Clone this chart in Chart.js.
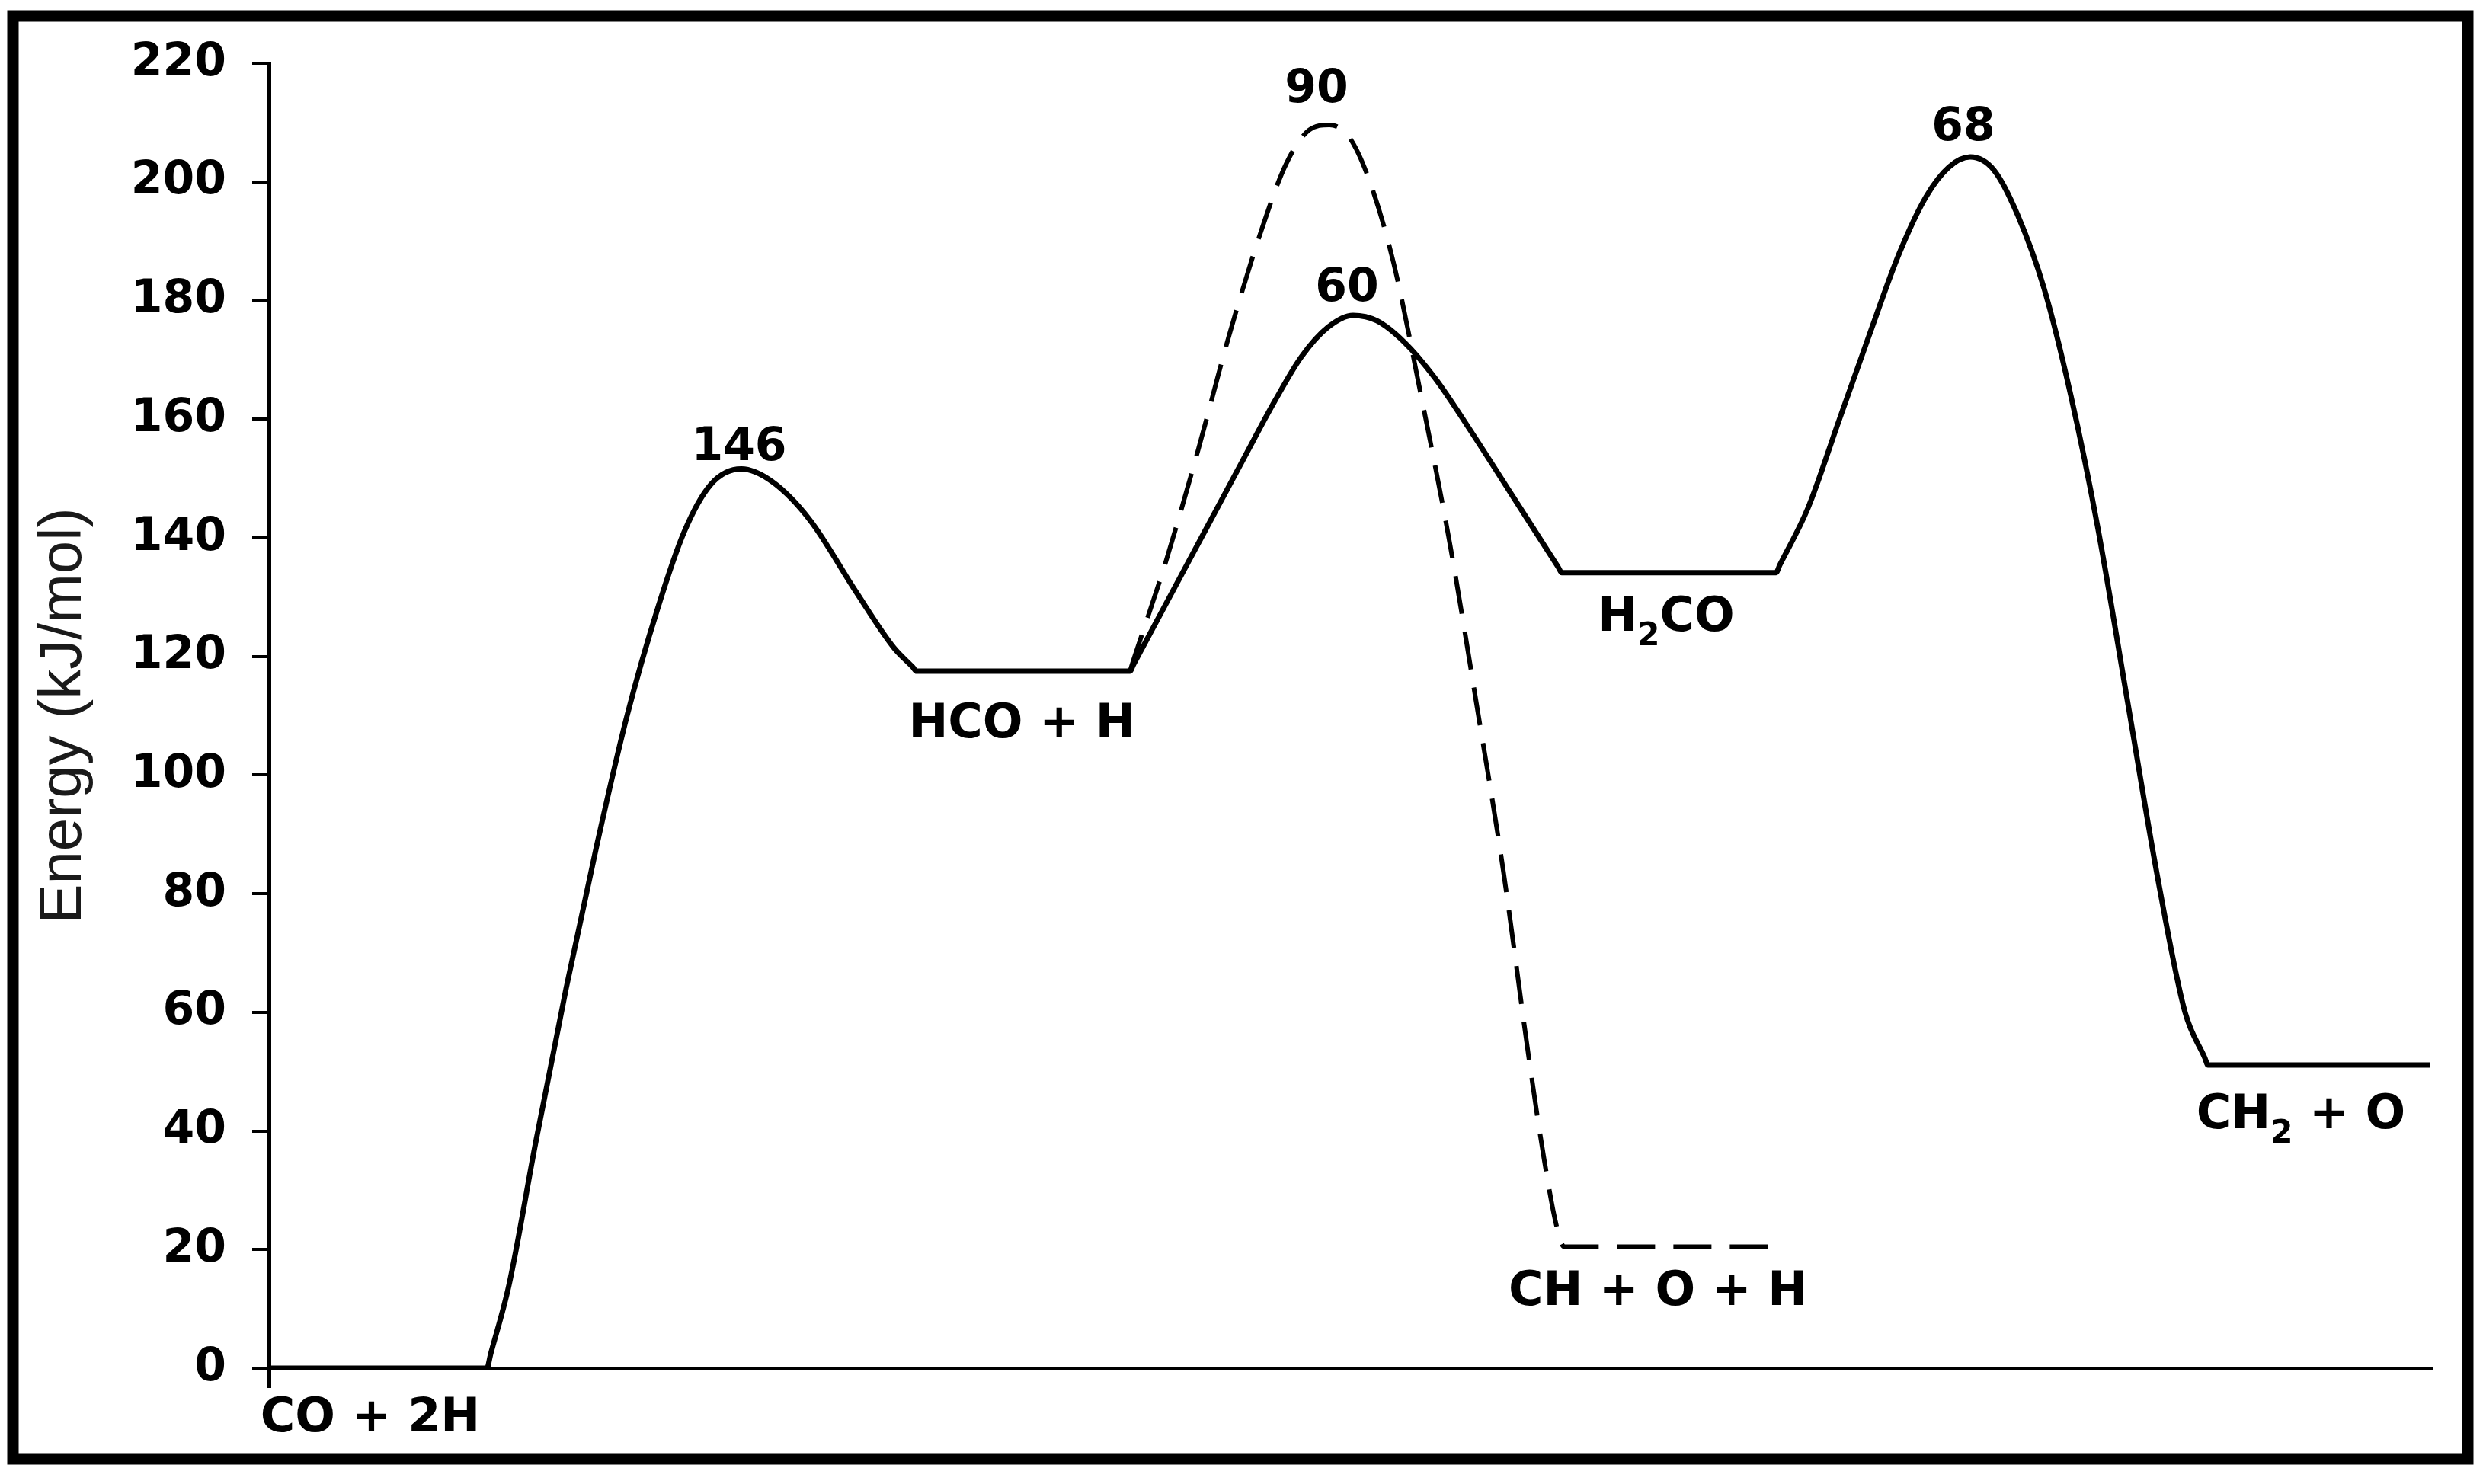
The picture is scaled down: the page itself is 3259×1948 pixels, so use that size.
<!DOCTYPE html>
<html>
<head>
<meta charset="utf-8">
<script src="https://cdn.jsdelivr.net/npm/chart.js@4.4.0/dist/chart.umd.min.js"></script>
<style>
  html, body { margin: 0; padding: 0; background: #fff; }
</style>
</head>
<body>
<canvas id="EnergyChart" width="3259" height="1948"></canvas>
<script>
// reaction coordinate (arbitrary units) and energy (kJ/mol)
const mainX = [0, 28.6, 29.1, 31.5, 35, 39, 43, 47, 51, 54.5, 58, 62, 66, 71, 77, 82, 84.5, 85,
  113, 113.5, 118, 123, 128, 132, 135.5, 139, 142.3, 145.4, 149, 153, 158, 163, 166.5, 169.2, 169.7,
  197.8, 198.3, 202, 206, 210, 214, 217.5, 220.5, 223.3, 226.4, 229.5, 233, 236.5, 240, 244, 248, 251.5, 254.1, 254.5, 283.7];
const mainE = [0, 0, 2.4, 14, 38, 64, 88, 110, 128, 141, 149, 151.6, 149.5, 143, 131, 121.5, 118.2, 117.5,
  117.5, 118.7, 129.5, 141.5, 153.5, 163, 170.5, 175.5, 177.5, 176.6, 173, 167, 157.5, 147.5, 140.5, 135.1, 134.1,
  134.1, 135.4, 145, 159.5, 174, 188, 197.5, 202.5, 204.2, 202, 194.5, 182, 164, 142, 112, 82, 60, 52.3, 51.1, 51.1];

// CH + O + H branch (dashed)
const altX = [113, 113.5, 117.7, 122, 126, 130.2, 133.5, 136.5, 139.2, 141.8, 144.5, 147.6, 151.2, 155, 158.5, 162, 165.4, 167.4, 169, 170, 198.2];
const altE = [117.5, 119.5, 135.9, 155, 174, 191.6, 203, 208.7, 209.6, 207.5, 200, 186.4, 164.1, 139, 112, 84, 52, 35, 24, 20.5, 20.5];

const yTicks = [0, 20, 40, 60, 80, 100, 120, 140, 160, 180, 200, 220];

// labels on the plot (centre position in data units)
const labelText = ["146", "90", "60", "68", "CO + 2H", "HCO + H", "H₂CO", "CH + O + H", "CH₂ + O"];
const labelX = [61.7, 137.5, 141.5, 222.4, 13.3, 98.8, 183.4, 182.3, 266.7];
const labelY = [155.9, 216.2, 182.8, 209.9, -7.7, 109.2, 127.2, 13.6, 43.3];

const FONT = '"DejaVu Sans", Verdana, sans-serif';

function toPoints(xs, ys) {
  return xs.map((x, i) => ({ x: x, y: ys[i] }));
}

// draws text with ₂ rendered as a lowered small 2
function drawChem(ctx, text, cx, cy, size) {
  const big = "bold " + size + "px " + FONT;
  const small = "bold " + Math.round(size * 0.68) + "px " + FONT;
  const parts = text.split(/(₂)/).filter(p => p.length);
  let total = 0;
  parts.forEach(p => {
    ctx.font = p === "₂" ? small : big;
    total += ctx.measureText(p === "₂" ? "2" : p).width;
  });
  let x = cx - total / 2;
  const base = cy + size * 0.365;
  ctx.textAlign = "left";
  ctx.textBaseline = "alphabetic";
  parts.forEach(p => {
    if (p === "₂") {
      ctx.font = small;
      ctx.fillText("2", x, base + size * 0.3);
      x += ctx.measureText("2").width;
    } else {
      ctx.font = big;
      ctx.fillText(p, x, base);
      x += ctx.measureText(p).width;
    }
  });
}

const annotate = {
  id: "annotate",
  afterDatasetsDraw(chart) {
    const ctx = chart.ctx;
    const xs = chart.scales.x, ys = chart.scales.y;
    ctx.save();
    ctx.fillStyle = "#000";
    labelText.forEach((t, i) => {
      const size = /^\d+$/.test(t) ? 60 : 62;
      drawChem(ctx, t, xs.getPixelForValue(labelX[i]), ys.getPixelForValue(labelY[i]), size);
    });
    // outer frame
    ctx.lineWidth = 15;
    ctx.strokeStyle = "#000";
    ctx.strokeRect(17, 21, 3222, 1894);
    ctx.restore();
  }
};

var ctx = document.getElementById("EnergyChart").getContext("2d");
var EnergyChart = new Chart(ctx, {
  type: "line",
  data: {
    datasets: [
      {
        label: "CO + 2H → CH2 + O",
        data: toPoints(mainX, mainE),
        borderColor: "#000",
        borderWidth: 7,
        pointRadius: 0,
        cubicInterpolationMode: "monotone",
        fill: false,
      },
      {
        label: "HCO + H → CH + O + H",
        data: toPoints(altX, altE),
        borderColor: "#000",
        borderWidth: 6,
        borderDash: [50, 24],
        pointRadius: 0,
        cubicInterpolationMode: "monotone",
        fill: false,
      },
    ],
  },
  options: {
    responsive: false,
    devicePixelRatio: 1,
    animation: false,
    events: [],
    layout: { padding: { top: 83, right: 69, bottom: 0, left: 0 } },
    plugins: {
      legend: { display: false },
      tooltip: { enabled: false },
    },
    scales: {
      x: {
        type: "linear",
        min: 0,
        max: 283.7,
        afterBuildTicks: (s) => { s.ticks = [{ value: 0 }]; },
        afterFit: (s) => { s.height = 152; },
        ticks: { display: false },
        grid: { drawOnChartArea: false, drawTicks: true, tickLength: 26, lineWidth: 5, color: "#000" },
        border: { display: true, color: "#000", width: 5 },
      },
      y: {
        min: 0,
        max: 220,
        afterBuildTicks: (s) => { s.ticks = yTicks.map(v => ({ value: v })); },
        afterFit: (s) => { s.width = 353; },
        ticks: {
          color: "#000",
          padding: 34,
          font: { family: FONT, size: 60, weight: "bold" },
        },
        grid: { drawOnChartArea: false, drawTicks: true, tickLength: 22, lineWidth: 4, color: "#000" },
        border: { display: true, color: "#000", width: 5 },
        title: {
          display: true,
          text: "Energy (kJ/mol)",
          color: "#1a1a1a",
          padding: { top: 38, bottom: 0 },
          font: { family: '"Liberation Sans", Arial, sans-serif', size: 78, weight: "normal" },
        },
      },
    },
  },
  plugins: [annotate],
});
</script>
</body>
</html>
